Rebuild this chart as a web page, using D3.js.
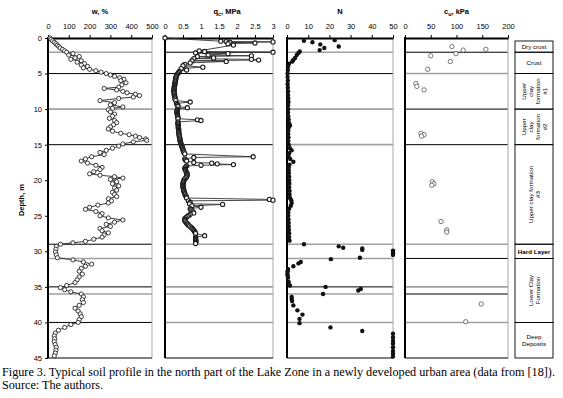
<!DOCTYPE html>
<html>
<head>
<meta charset="utf-8">
<script src="https://cdn.jsdelivr.net/npm/d3@7"></script>
<style>
  body { margin: 0; background: #fff; }
  svg { display: block; font-family: "Liberation Sans", Arial, sans-serif; }
</style>
</head>
<body>
<div id="page"></div>
<script>
// depth (m) and value pairs
var wData = [
  [0.0,10],[0.2,15],[0.4,22],[0.6,30],[0.8,38],[1.0,45],[1.2,52],[1.4,58],[1.6,70],[1.8,80],
  [2.0,90],[2.2,120],[2.4,100],[2.6,150],[2.8,130],[3.0,110],[3.2,160],[3.4,140],[3.6,175],[3.8,160],
  [4.0,190],[4.2,170],[4.4,200],[4.6,230],[4.8,255],[5.0,280],[5.2,300],[5.4,320],[5.6,345],[5.8,365],
  [6.0,350],[6.3,375],[6.6,355],[6.9,340],[7.1,270],[7.3,330],[7.5,360],[7.7,380],[7.9,420],[8.1,440],
  [8.3,410],[8.5,340],[8.8,250],[9.1,320],[9.4,300],[9.7,360],[9.9,310],[10.1,290],[10.4,300],[10.7,320],
  [11.0,310],[11.3,295],[11.6,320],[11.9,330],[12.2,315],[12.5,300],[12.8,290],[13.1,310],[13.4,350],[13.6,390],
  [13.8,420],[14.0,440],[14.2,470],[14.4,475],[14.6,410],[14.9,360],[15.2,340],[15.5,310],[15.8,280],[16.1,250],
  [16.4,270],[16.7,210],[17.0,180],[17.3,160],[17.6,190],[17.9,230],[18.2,260],[18.5,250],[18.8,220],[19.1,200],
  [19.3,250],[19.5,320],[19.7,360],[19.9,300],[20.2,330],[20.5,310],[20.8,340],[21.1,320],[21.4,330],[21.7,310],
  [22.0,320],[22.3,330],[22.6,290],[22.9,305],[23.2,290],[23.5,240],[23.8,200],[24.1,180],[24.4,230],[24.7,260],
  [25.0,250],[25.3,290],[25.6,360],[25.9,320],[26.2,280],[26.5,300],[26.8,250],[27.1,260],[27.4,290],[27.7,270],
  [28.0,260],[28.3,220],[28.6,180],[28.8,120],[29.0,60],[29.3,40],[29.7,38],[30.1,36],[30.5,40],[30.9,45],
  [31.2,120],[31.5,170],[31.8,210],[32.1,180],[32.4,160],[32.8,150],[33.2,165],[33.6,150],[34.0,140],[34.4,130],
  [34.8,90],[35.1,60],[35.4,80],[35.7,110],[36.0,160],[36.4,170],[36.8,165],[37.2,170],[37.6,150],[38.0,130],
  [38.4,145],[38.8,155],[39.2,160],[39.6,150],[40.0,145],[40.3,110],[40.7,80],[41.1,50],[41.5,35],[41.9,30],
  [42.3,32],[42.7,30],[43.1,35],[43.5,40],[43.9,38],[44.3,35],[44.7,30]
];

var qcData = [
  [0.0,0.0],[0.45,1.55],[0.5,1.7],[0.55,3.0],[0.6,1.8],[0.7,2.5],[0.8,1.75],[1.0,1.9],
  [1.8,0.95],[1.9,1.1],[2.0,3.0],[2.1,0.85],[2.2,1.75],[2.4,1.2],[2.5,2.4],[2.6,0.9],[2.8,1.35],
  [2.9,0.8],[3.0,2.4],[3.1,2.6],[3.2,0.75],[3.3,1.7],[3.5,0.7],[3.7,0.55],[3.9,0.5],[4.1,1.05],
  [4.3,0.45],[4.5,0.6],[4.7,0.4],[4.85,0.38],[5.0,0.35],[5.15,0.33],[5.3,0.32],[5.45,0.31],[5.6,0.3],
  [5.75,0.3],[5.9,0.29],[6.05,0.29],[6.2,0.28],[6.35,0.28],[6.5,0.27],[6.65,0.27],[6.8,0.26],[6.95,0.26],
  [7.1,0.25],[7.25,0.25],[7.4,0.25],[7.55,0.25],[7.7,0.25],[7.85,0.26],[8.0,0.26],[8.15,0.27],[8.3,0.27],
  [8.45,0.28],[8.6,0.28],[8.8,0.3],[9.0,0.7],[9.2,0.32],[9.35,0.34],[9.5,0.36],[9.65,0.36],[9.8,0.62],
  [10.0,0.35],[10.15,0.34],[10.3,0.33],[10.45,0.33],[10.6,0.34],[10.75,0.34],[10.9,0.35],[11.05,0.35],
  [11.2,0.36],[11.35,0.36],[11.5,0.9],[11.6,1.0],[11.8,0.36],[11.95,0.36],[12.1,0.36],[12.25,0.37],
  [12.4,0.37],[12.55,0.37],[12.7,0.37],[12.85,0.38],[13.0,0.38],[13.15,0.38],[13.3,0.38],[13.45,0.39],
  [13.6,0.39],[13.75,0.4],[13.9,0.4],[14.05,0.41],[14.2,0.41],[14.35,0.42],[14.5,0.42],[14.65,0.43],
  [14.8,0.44],[14.95,0.45],[15.1,0.46],[15.25,0.47],[15.4,0.48],[15.55,0.49],[15.7,0.5],[15.85,0.51],
  [16.0,0.52],[16.15,0.53],[16.3,0.55],[16.7,2.45],[16.8,0.8],[17.0,0.55],[17.15,0.57],[17.3,0.6],
  [17.5,0.8],[17.6,1.3],[17.7,1.45],[17.8,1.9],[17.9,1.0],[18.0,0.6],[18.15,0.57],[18.3,0.55],[18.45,0.56],
  [18.6,0.57],[18.75,0.58],[18.9,0.6],[19.05,0.61],[19.2,0.62],[19.35,0.61],[19.5,0.6],[19.65,0.58],
  [19.8,0.55],[19.95,0.53],[20.1,0.52],[20.25,0.51],[20.4,0.5],[20.55,0.5],[20.7,0.5],[20.85,0.5],
  [21.0,0.5],[21.15,0.51],[21.3,0.52],[21.45,0.52],[21.6,0.53],[21.75,0.54],[21.9,0.55],[22.05,0.56],
  [22.2,0.58],[22.35,0.59],[22.5,0.6],[22.7,2.9],[22.8,3.0],[22.9,0.65],[23.1,0.7],[23.3,0.68],[23.4,1.6],
  [23.6,0.75],[23.8,1.0],[24.0,0.7],[24.15,0.72],[24.3,0.75],[24.45,0.78],[24.6,0.8],[24.8,0.7],[24.95,0.66],
  [25.1,0.62],[25.25,0.58],[25.4,0.55],[25.55,0.55],[25.7,0.55],[25.85,0.57],[26.0,0.6],[26.15,0.62],
  [26.3,0.65],[26.45,0.68],[26.6,0.72],[26.75,0.75],[26.9,0.78],[27.05,0.8],[27.2,0.82],[27.35,0.84],
  [27.5,0.85],[27.8,1.1],[28.0,0.85],[28.15,0.85],[28.3,0.85],[28.45,0.86],[28.6,0.86],[28.75,0.85],[28.9,0.85]
];

var nData = [
  [0.3,22.5],[0.4,8],[0.6,12],[0.9,15.7],[1.2,24.4],[1.4,17.6],[1.7,15.4],[1.9,6],[2.1,5.4],[2.4,4.6],
  [2.8,3.8],[3.1,3],[3.3,2.5],[3.6,1],[4.0,0.5],[4.5,0.4],[5.0,0.3],[5.5,0.3],[6.0,0.4],[6.5,0.3],
  [7.0,0.4],[7.5,0.5],[8.0,0.5],[8.5,0.6],[9.0,0.7],[9.5,0.5],[10.0,0.6],[10.5,0.5],[11.0,0.6],[11.5,0.8],
  [12.0,1.0],[12.3,1.4],[12.6,0.8],[13.0,0.6],[13.5,0.6],[14.0,0.7],[14.5,0.6],[15.0,0.8],[15.5,1.4],[15.8,2.2],
  [16.2,1.0],[16.6,0.7],[17.0,1.5],[17.4,3.0],[17.8,1.2],[18.2,0.8],[18.6,0.8],[19.0,0.9],[19.5,1.0],[20.0,1.0],
  [20.5,1.1],[21.0,1.0],[21.5,1.2],[22.0,1.2],[22.5,1.4],[22.8,2.0],[23.2,2.2],[23.6,1.8],[24.0,1.0],[24.5,0.6],
  [25.0,0.6],[25.5,0.7],[26.0,0.8],[26.5,0.8],[27.0,0.9],[27.5,1.0],[28.0,1.0],[28.5,1.2],
  [29.0,8],[29.3,24.4],[29.5,26.5],[29.6,35.5],[29.8,35.5],[29.9,50],[30.1,50],[30.3,50],[30.5,50],
  [30.9,34.4],[31.1,20.7],[31.5,6.5],[31.7,5.4],[32.1,3],[32.5,0.5],[32.8,0.3],[33.1,0.2],[33.4,0.3],[33.7,0.5],
  [34.3,0.8],[34.8,1.4],[35.0,18.2],[35.3,34.8],[35.5,33.6],[36.0,17],[36.4,2.2],[36.7,2.2],[37.0,2.4],
  [37.6,3],[38.3,4.9],[38.9,7.3],[39.5,5.9],[40.1,5.9],[40.7,20.5],[41.2,35.5],[41.6,50],[42.1,50],
  [42.6,50],[43.0,50],[43.5,50],[44.0,50],[44.4,50],[44.8,50]
];

var cuData = [
  [1.2,91],[1.6,157],[1.7,113],[2.2,99],[2.5,50],[3.3,88],[4.4,44],[6.4,21],[6.8,23],[7.3,37],
  [13.4,31],[13.6,37],[13.8,32],[20.2,53],[20.5,56],[20.7,52],[25.8,70],[27.0,81],[27.3,81],
  [37.4,148],[39.9,118]
];

var depthTicks = [0, 5, 10, 15, 20, 25, 30, 35, 40, 45];
var wTicks = [0, 100, 200, 300, 400, 500];
var qcTicks = [0, 0.5, 1, 1.5, 2, 2.5, 3];
var nTicks = [0, 10, 20, 30, 40, 50];
var cuTicks = [0, 50, 100, 150, 200];

// layer boundaries and their line shade in each panel (k = black, g = grey)
var boundaries = [2, 5, 10, 15, 29, 31, 35, 36, 40];
var wShade  = ['g','k','g','k','k','g','k','g','k'];
var qcShade = ['k','k','g','k','g','g','g','g','g'];
var nShade  = ['g','k','g','g','g','g','k','g','g'];
var cuShade = ['k','g','k','k','g','k','g','k','g'];

var layers = [
  {top: 0,  bottom: 2,  lines: ['Dry crust'], rotate: false},
  {top: 2,  bottom: 5,  lines: ['Crust'], rotate: false},
  {top: 5,  bottom: 10, lines: ['Upper', 'clay', 'formation', '#1'], rotate: true},
  {top: 10, bottom: 15, lines: ['Upper', 'clay', 'formation', '#2'], rotate: true},
  {top: 15, bottom: 29, lines: ['Upper clay formation', '#3'], rotate: true},
  {top: 29, bottom: 31, lines: ['Hard Layer'], rotate: false, bold: true},
  {top: 31, bottom: 40, lines: ['Lower Clay', 'Formation'], rotate: true},
  {top: 40, bottom: 45, lines: ['Deep', 'Deposits'], rotate: false}
];

var svg = d3.select("#page").append("svg")
    .attr("width", 563)
    .attr("height", 398);

var y = d3.scaleLinear().domain([0, 45]).range([38, 358]);

var drawPanel = function(opts) {
  var x = d3.scaleLinear().domain(opts.domain).range([opts.left, opts.right]);
  var g = svg.append("g");

  // boundary lines
  g.selectAll("line.bound")
      .data(boundaries)
    .enter().append("line")
      .attr("x1", opts.left).attr("x2", opts.right)
      .attr("y1", function(d) { return y(d); })
      .attr("y2", function(d) { return y(d); })
      .attr("stroke", function(d, i) { return opts.shade[i] == 'k' ? '#000' : '#a0a0a0'; })
      .attr("stroke-width", function(d, i) { return opts.shade[i] == 'k' ? 1 : 1.6; });

  // frame
  g.append("line").attr("x1", opts.right).attr("x2", opts.right)
      .attr("y1", y(0)).attr("y2", y(45)).attr("stroke", "#a8a8a8");
  g.append("line").attr("x1", opts.left).attr("x2", opts.right)
      .attr("y1", y(45)).attr("y2", y(45)).attr("stroke", "#000");

  var axis = d3.axisTop(x).tickValues(opts.ticks).tickSize(3).tickSizeOuter(0)
      .tickFormat(function(d) { return d; });
  var ax = g.append("g").attr("transform", "translate(0," + y(0) + ")").call(axis);
  ax.select(".domain").attr("stroke-width", 2);
  ax.selectAll("text").attr("font-size", 7.5).attr("dy", "-0.4em").attr("fill", "#000");

  g.append("line").attr("x1", opts.left).attr("x2", opts.left)
      .attr("y1", y(0) - 1).attr("y2", y(45)).attr("stroke", "#000").attr("stroke-width", 2);

  var title = g.append("text")
      .attr("x", (opts.left + opts.right) / 2 + (opts.titleDx || 0))
      .attr("y", 14)
      .attr("text-anchor", "middle")
      .attr("font-size", 7.5)
      .attr("font-weight", "bold")
      .text(opts.title);
  if (opts.sub) {
    title.append("tspan").attr("font-size", 5.5).attr("dy", 2).text(opts.sub);
    title.append("tspan").attr("dy", -2).text(opts.rest);
  }

  var marks = g.append("g");
  if (opts.line) {
    marks.append("path")
        .datum(opts.data)
        .attr("fill", "none")
        .attr("stroke", opts.lineColor)
        .attr("stroke-width", opts.lineWidth || 0.9)
        .attr("d", d3.line()
          .x(function(d) { return x(Math.min(d[1], opts.domain[1])); })
          .y(function(d) { return y(d[0]); }));
  }
  marks.selectAll("circle")
      .data(opts.data)
    .enter().append("circle")
      .attr("cx", function(d) { return x(d[1]); })
      .attr("cy", function(d) { return y(d[0]); })
      .attr("r", opts.r)
      .attr("fill", opts.filled ? "#111" : "#fff")
      .attr("stroke", opts.filled ? "none" : opts.dotColor)
      .attr("stroke-width", opts.dotWidth || 0.8);
  return x;
};

drawPanel({left: 48, right: 152, domain: [0, 500], ticks: wTicks, shade: wShade,
  title: "w, %", data: wData, line: true, lineColor: "#222", dotColor: "#222", r: 2.1, dotWidth: 0.9});
drawPanel({left: 165, right: 273, domain: [0, 3], ticks: qcTicks, shade: qcShade,
  title: "q", sub: "c", rest: ", MPa", titleDx: 8, data: qcData, line: true,
  lineColor: "#333", dotColor: "#1a1a1a", r: 2.1, dotWidth: 1.1});
drawPanel({left: 287, right: 393, domain: [0, 50], ticks: nTicks, shade: nShade,
  title: "N", data: nData, line: false, filled: true, r: 2.2});
drawPanel({left: 405, right: 508, domain: [0, 200], ticks: cuTicks, shade: cuShade,
  title: "c", sub: "u", rest: ", kPa", data: cuData, line: false,
  dotColor: "#555", r: 2.2});

// depth axis on the first panel
var yAxis = d3.axisLeft(y).tickValues(depthTicks).tickSize(3).tickSizeOuter(0);
var yg = svg.append("g").attr("transform", "translate(48,0)").call(yAxis);
yg.select(".domain").remove();
yg.selectAll("text").attr("font-size", 7.5).attr("fill", "#000");

svg.append("text")
    .attr("transform", "translate(24,200) rotate(-90)")
    .attr("text-anchor", "middle")
    .attr("font-size", 7.5)
    .attr("font-weight", "bold")
    .text("Depth, m");

// layer column
var lx0 = 515, lx1 = 553, lmid = (lx0 + lx1) / 2;
var lg = svg.append("g");
lg.selectAll("rect")
    .data(layers)
  .enter().append("rect")
    .attr("x", lx0)
    .attr("y", function(d) { return d.top == 0 ? 41 : y(d.top); })
    .attr("width", lx1 - lx0)
    .attr("height", function(d) { return y(d.bottom) - (d.top == 0 ? 41 : y(d.top)); })
    .attr("fill", "none")
    .attr("stroke", "#000")
    .attr("stroke-width", 0.9);

layers.forEach(function(l) {
  var cy = (Math.max(y(l.top), 41) + y(l.bottom)) / 2;
  var lh = 7;
  var t = lg.append("text")
      .attr("text-anchor", "middle")
      .attr("font-size", 6.2)
      .attr("font-weight", l.bold ? "bold" : "normal");
  if (l.rotate) {
    t.attr("transform", "translate(" + lmid + "," + cy + ") rotate(-90)");
  } else {
    t.attr("transform", "translate(" + lmid + "," + cy + ")");
  }
  var n = l.lines.length;
  l.lines.forEach(function(s, i) {
    t.append("tspan")
        .attr("x", 0)
        .attr("y", (i - (n - 1) / 2) * lh + 2.2)
        .text(s);
  });
});

// caption
var cap = svg.append("g")
    .attr("font-family", "'Liberation Serif', 'Times New Roman', serif")
    .attr("font-size", 12.2);
cap.append("text").attr("x", 2).attr("y", 376)
    .text("Figure 3. Typical soil profile in the north part of the Lake Zone in a newly developed urban area (data from [18]).");
cap.append("text").attr("x", 2).attr("y", 389)
    .text("Source: The authors.");
</script>
</body>
</html>
